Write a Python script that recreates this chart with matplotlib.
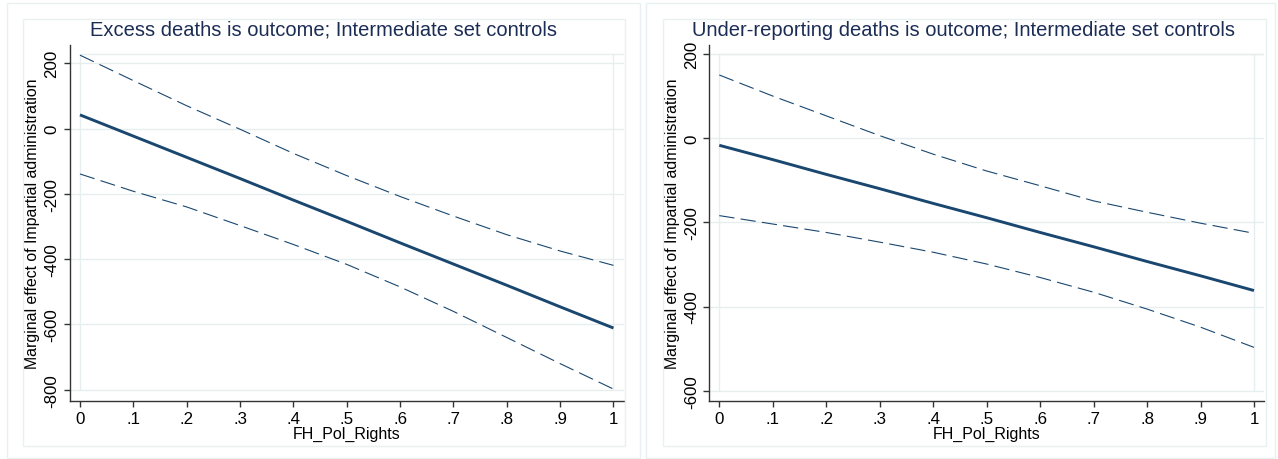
import matplotlib
matplotlib.use("Agg")
import matplotlib.pyplot as plt
from matplotlib.patches import Rectangle

plt.rcParams['font.family'] = ['Liberation Sans', 'DejaVu Sans']
plt.rcParams['lines.scale_dashes'] = False

# ---- data ----
x_vals = [0, .1, .2, .3, .4, .5, .6, .7, .8, .9, 1]
x_ticks = [0, .1, .2, .3, .4, .5, .6, .7, .8, .9, 1]
x_tick_labels = ["0", ".1", ".2", ".3", ".4", ".5", ".6", ".7", ".8", ".9", "1"]

excess_me = [42, -23, -88, -153, -219, -284, -350, -415, -480, -546, -611]
excess_hi = [225, 147, 70, -2, -76, -144, -208, -268, -325, -375, -419]
excess_lo = [-139, -192, -240, -297, -355, -416, -485, -560, -640, -720, -798]
excess_yticks = [200, 0, -200, -400, -600, -800]

under_me = [-17, -51, -86, -120, -155, -189, -224, -258, -293, -327, -362]
under_hi = [150, 100, 53, 6, -38, -78, -113, -149, -176, -202, -226]
under_lo = [-184, -204, -224, -247, -271, -299, -331, -366, -406, -449, -497]
under_yticks = [200, 0, -200, -400, -600]

titles = ["Excess deaths is outcome; Intermediate set controls",
          "Under-reporting deaths is outcome; Intermediate set controls"]
xlabel = "FH_Pol_Rights"
ylabel = "Marginal effect of Impartial administration"

W, H = 1278, 460
fig = plt.figure(figsize=(W / 100, H / 100), dpi=100)
fig.patch.set_facecolor("white")

def fr(x0, y0, x1, y1):
    return [x0 / W, 1 - y1 / H, (x1 - x0) / W, (y1 - y0) / H]

frame_col = "#e9f0f1"
for (x0, y0, x1, y1) in [(7, 4, 640, 459), (646, 4, 1275, 459),
                         (23, 20, 625, 447), (663, 20, 1266, 447)]:
    r = fr(x0, y0, x1, y1)
    fig.patches.append(Rectangle((r[0], r[1]), r[2], r[3], transform=fig.transFigure,
                                 fill=False, edgecolor=frame_col, lw=1.0))

navy = "#1a476f"
title_col = "#1c2d55"
grid_col = "#e6eeef"

panels = [
    dict(rect=fr(70, 45.7, 624, 401.7), ylim=(-833.6, 257), yt=excess_yticks,
         me=excess_me, hi=excess_hi, lo=excess_lo, top=228, bottom=-800, title=titles[0], tx=324),
    dict(rect=fr(709.3, 45.7, 1264.5, 401.7), ylim=(-623.7, 222), yt=under_yticks,
         me=under_me, hi=under_hi, lo=under_lo, top=200, bottom=-600, title=titles[1], tx=964),
]

for p in panels:
    ax = fig.add_axes(p["rect"])
    ax.set_xlim(-0.0187, 1.0197)
    ax.set_ylim(*p["ylim"])
    for s in ["top", "right"]:
        ax.spines[s].set_visible(False)
    for s in ["left", "bottom"]:
        ax.spines[s].set_color("#333333")
        ax.spines[s].set_linewidth(1.0)
    # grid & plot-region outline
    for yv in p["yt"]:
        ax.axhline(yv, color=grid_col, lw=1.0, zorder=0)
    ax.axhline(p["top"], xmin=(0 + 0.0187) / 1.0384, xmax=1, color=grid_col, lw=1.0, zorder=0)
    ax.vlines([0, 1], p["bottom"], p["top"], color=grid_col, lw=1.0, zorder=0)

    ax.plot(x_vals, p["hi"], color=navy, lw=0.8, linestyle=(0, (11, 4.5)))
    ax.plot(x_vals, p["lo"], color=navy, lw=0.8, linestyle=(0, (11, 4.5)))
    ax.plot(x_vals, p["me"], color=navy, lw=2.1, solid_capstyle="butt")

    ax.set_xticks(x_ticks)
    ax.set_xticklabels(x_tick_labels)
    ax.set_yticks(p["yt"])
    ax.set_yticklabels([str(v) for v in p["yt"]], rotation=90, va="center")
    ax.tick_params(axis="both", length=4.5, width=1.0, color="#333333",
                   labelsize=12.2, labelcolor="black", pad=3)
    ax.set_xlabel(xlabel, fontsize=11.5, labelpad=0)
    ax.set_ylabel(ylabel, fontsize=11.4, labelpad=3)
    fig.text(p["tx"] / W, 1 - 30 / H, p["title"], ha="center", va="center",
             fontsize=14.5, color=title_col)

fig.savefig("out.png", dpi=100, facecolor="white")
